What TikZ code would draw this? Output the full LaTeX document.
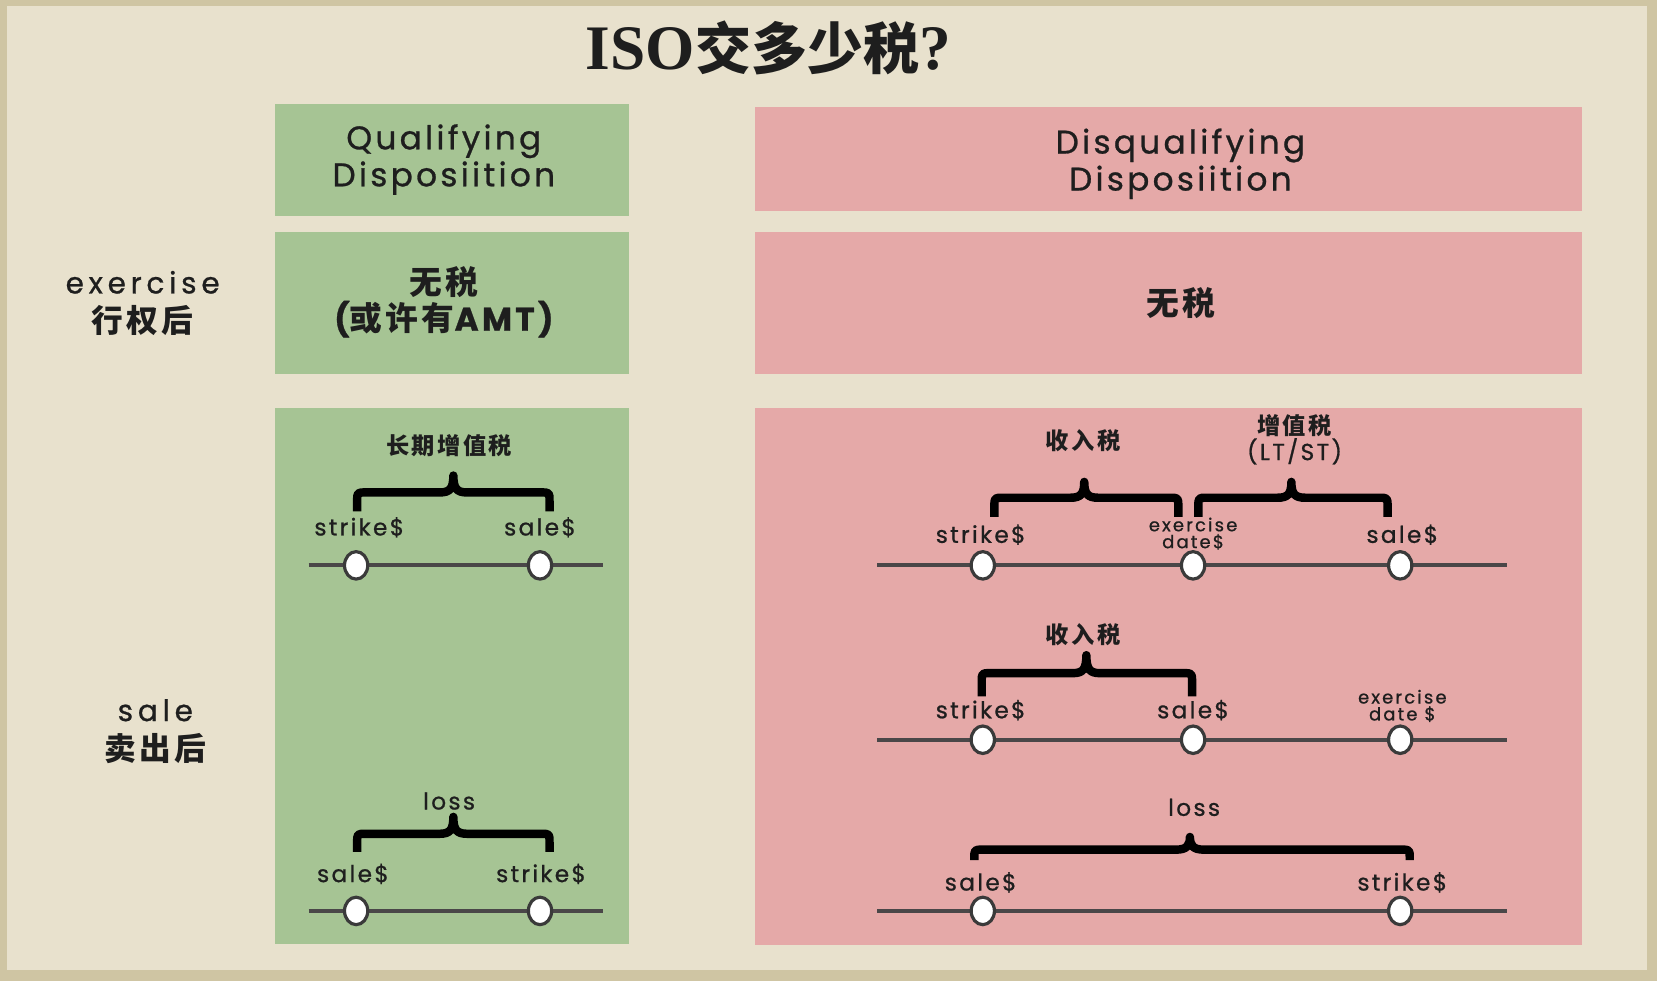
\documentclass[tikz,border=0pt]{standalone}
\usepackage{fontspec}
\usetikzlibrary{shapes.geometric}
\setmainfont{Poppins}
\newfontfamily\lab[LetterSpace=10,FakeBold=0.8]{Poppins}
\newfontfamily\labh[LetterSpace=10,FakeBold=0.8]{Poppins}
\newfontfamily\labw[LetterSpace=16,FakeBold=0.8]{Poppins}
\newfontfamily\labs[LetterSpace=12,FakeBold=0.8]{Poppins}
\newfontfamily\cjk[LetterSpace=10]{Noto Sans CJK SC}
\newfontfamily\cjkt{Noto Sans CJK SC}
\newfontfamily\ttl{Liberation Serif}
\definecolor{framec}{HTML}{CFC5A3}
\definecolor{bgc}{HTML}{E8E1CD}
\definecolor{grn}{HTML}{A6C494}
\definecolor{pnk}{HTML}{E5A9A8}
\definecolor{txt}{HTML}{1E1E1E}
\definecolor{linec}{HTML}{4A4748}
\definecolor{dotc}{HTML}{3A3A3A}
\newcommand\ISObrace[6]{% x1 x2 xm ybot yh ytop
  \draw[brc] (#1,#4) -- (#1,#5+8) .. controls (#1,#5) .. (#1+8,#5) -- (#3-13,#5)
    .. controls (#3-3,#5) and (#3,#5-4) .. (#3,#6)
    .. controls (#3,#5-4) and (#3+3,#5) .. (#3+13,#5) -- (#2-8,#5)
    .. controls (#2,#5) .. (#2,#5+8) -- (#2,#4);}
\begin{document}
\begin{tikzpicture}[x=1pt,y=-1pt,
  gfill/.style={fill=grn},
  pfill/.style={fill=pnk},
  lbl/.style={font=\lab\fontsize{22}{24}\selectfont, text=txt, inner sep=0},
  slbl/.style={font=\labs\fontsize{17}{16}\selectfont, text=txt, inner sep=0, align=center},
  clbl/.style={font=\cjk\bfseries\fontsize{22}{24}\selectfont, text=txt, inner sep=0, align=center},
  head/.style={font=\labh\fontsize{31}{35}\selectfont, text=txt, inner sep=0, align=center},
  side/.style={font=\fontsize{28}{37}\selectfont, text=txt, inner sep=0, align=center},
  cside/.style={font=\cjk\bfseries\fontsize{31}{34}\selectfont, text=txt, inner sep=0, align=center},
  tline/.style={draw=linec, line width=4},
  dot/.style={ellipse, draw=dotc, fill=white, line width=3, minimum width=22, minimum height=26, inner sep=0},
  brc/.style={draw=black, line width=8, line join=round, line cap=butt}]
\useasboundingbox (0,0) rectangle (1568,928);
\fill[framec] (0,0) rectangle (1568,928);
\fill[bgc] (6.6,5.7) rectangle (1558.5,917.6);
% title
\node[text=txt, inner sep=0] (title) at (727,45)
  {\ttl\bfseries\fontsize{60}{62}\selectfont ISO\cjkt\bfseries\fontsize{53}{62}\selectfont 交多少税\ttl\fontsize{60}{62}\selectfont ?};
% boxes
\fill[gfill] (260,98) rectangle (595,204);
\fill[pfill] (714,101) rectangle (1497,200);
\fill[gfill] (260,220) rectangle (595,354);
\fill[pfill] (714,220) rectangle (1497,354);
\fill[gfill] (260,386) rectangle (595,893);
\fill[pfill] (714,386) rectangle (1497,894);
% headers
\node[head] (qh) at (420,151) {Qualifying\\Disposiition};
\node[head] (dh) at (1117,155) {Disqualifying\\Disposiition};
% row 2
\node[cside] (gn) at (420,286) {无税\\{\lab(}或许有{\lab AMT)}};
\node[cside] (pn1) at (1117,287) {无税};
% side labels
\node[side] (ex) at (135,287) {{\labw exercise}\\{\cjk\bfseries\fontsize{30}{37}\selectfont 行权后}};
\node[side] (sa) at (147,692) {{\labw sale}\\{\cjk\bfseries\fontsize{30}{37}\selectfont 卖出后}};
% green timeline 1
\coordinate (g1s) at (292,535); \coordinate (g1e) at (571,535);
\draw[tline] (g1s) -- (g1e);
\node[dot] (g1a) at (337,535) {};
\node[dot] (g1b) at (511,535) {};
\node[lbl] (g1la) at (340,499) {strike\$};
\node[lbl] (g1lb) at (511,499) {sale\$};
\ISObrace{338}{520}{429}{484}{466}{450}
\node[clbl] (g1t) at (425,422) {长期增值税};
% green timeline 2
\coordinate (g2s) at (292,862); \coordinate (g2e) at (571,862);
\draw[tline] (g2s) -- (g2e);
\node[dot] (g2a) at (337,862) {};
\node[dot] (g2b) at (511,862) {};
\node[lbl] (g2la) at (334,827) {sale\$};
\node[lbl] (g2lb) at (512,827) {strike\$};
\ISObrace{338}{520}{429}{806}{789}{773}
\node[lbl] (g2t) at (425,758) {loss};
% pink timeline 1
\coordinate (p1s) at (830,535); \coordinate (p1e) at (1426,535);
\draw[tline] (p1s) -- (p1e);
\node[dot] (p1a) at (930,535) {};
\node[dot] (p1b) at (1129,535) {};
\node[dot] (p1c) at (1325,535) {};
\node[lbl] (p1la) at (928,506) {strike\$};
\node[slbl] (p1lb) at (1129,505) {exercise\\date\$};
\node[lbl] (p1lc) at (1327,506) {sale\$};
\ISObrace{941}{1115}{1026}{489}{471}{456}
\ISObrace{1134}{1313}{1222}{489}{471}{456}
\node[clbl] (p1t1) at (1025,417) {收入税};
\node[clbl] (p1t2) at (1225,416) {增值税\\{\lab\mdseries(LT/ST)}};
% pink timeline 2
\coordinate (p2s) at (830,700); \coordinate (p2e) at (1426,700);
\draw[tline] (p2s) -- (p2e);
\node[dot] (p2a) at (930,700) {};
\node[dot] (p2b) at (1129,700) {};
\node[dot] (p2c) at (1325,700) {};
\node[lbl] (p2la) at (928,672) {strike\$};
\node[lbl] (p2lb) at (1129,672) {sale\$};
\node[slbl] (p2lc) at (1327,668) {exercise\\date \$};
\ISObrace{929}{1128}{1028}{659}{637}{620}
\node[clbl] (p2t) at (1025,601) {收入税};
% pink timeline 3
\coordinate (p3s) at (830,862); \coordinate (p3e) at (1426,862);
\draw[tline] (p3s) -- (p3e);
\node[dot] (p3a) at (930,862) {};
\node[dot] (p3b) at (1325,862) {};
\node[lbl] (p3la) at (928,835) {sale\$};
\node[lbl] (p3lb) at (1327,835) {strike\$};
\ISObrace{922}{1334}{1126}{814}{804}{792}
\node[lbl] (p3t) at (1130,764) {loss};
\end{tikzpicture}
\end{document}
